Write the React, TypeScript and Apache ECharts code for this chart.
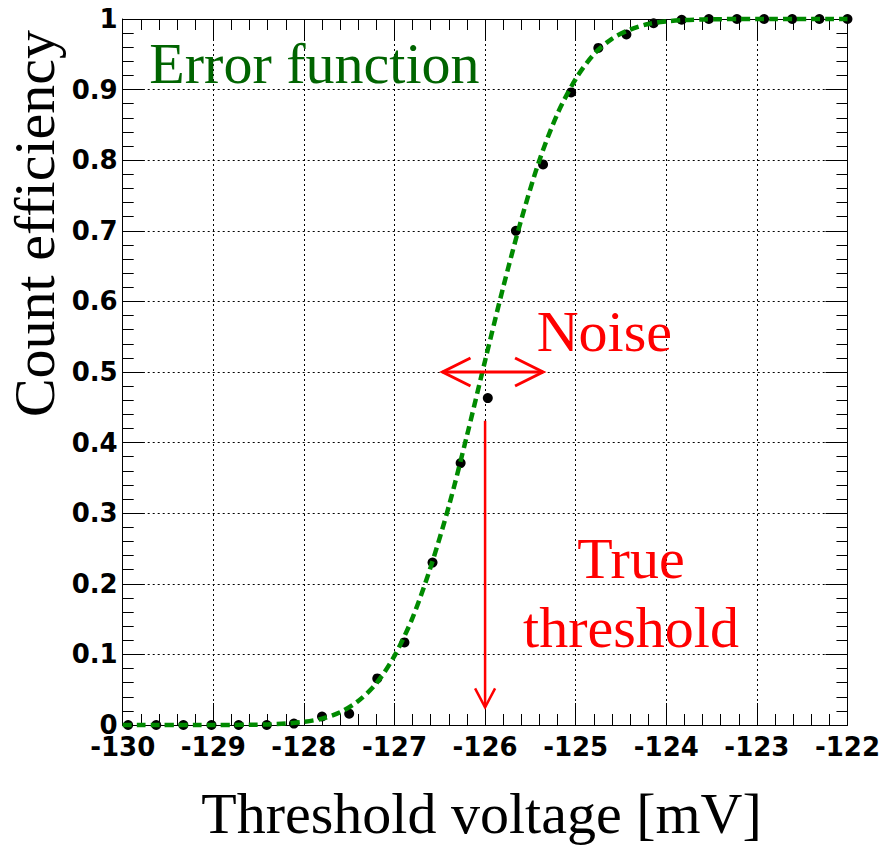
import React, { useEffect, useRef } from "react";
import * as echarts from "echarts";

// Measured points (threshold voltage in mV, count efficiency)
const voltage = [
  -129.94, -129.63, -129.33, -129.02, -128.72, -128.41, -128.11, -127.8, -127.5,
  -127.19, -126.89, -126.58, -126.27, -125.97, -125.66, -125.36, -125.05, -124.75,
  -124.44, -124.14, -123.83, -123.53, -123.22, -122.92, -122.61, -122.31, -122.0,
];
const efficiency = [
  0, 0, 0, 0, 0, 0, 0.002, 0.012, 0.016, 0.066, 0.117, 0.23, 0.371, 0.463, 0.7,
  0.794, 0.896, 0.959, 0.978, 0.994, 0.999, 1, 1, 1, 1, 1, 1,
];

// Error-function fit curve
const fitVoltage = [
  -130, -129.8, -129.6, -129.4, -129.2, -129, -128.8, -128.6, -128.4, -128.2, -128,
  -127.8, -127.6, -127.4, -127.2, -127, -126.8, -126.6, -126.4, -126.2, -126,
  -125.8, -125.6, -125.4, -125.2, -125, -124.8, -124.6, -124.4, -124.2, -124,
  -123.8, -123.6, -123.4, -123.2, -123, -122.8, -122.6, -122.4, -122.2, -122,
];
const fitEfficiency = [
  0, 0, 0, 0, 0, 0, 0.0001, 0.0003, 0.0008, 0.002, 0.0045,
  0.009, 0.018, 0.034, 0.059, 0.098, 0.152, 0.224, 0.31, 0.41, 0.516,
  0.62, 0.716, 0.8, 0.866, 0.915, 0.95, 0.972, 0.985, 0.993, 0.9966,
  0.9985, 0.9994, 0.9998, 1, 1, 1, 1, 1, 1, 1,
];

// Axis ranges
const xRange = [-130, -122];
const xStep = 1;
const yRange = [0, 1];
const yStep = 0.1;

// Annotations (data coordinates; text positions are baselines)
const noiseArrow = [[-126.47, 0.5], [-125.36, 0.5]];
const thresholdArrow = [[-126.0, 0.431], [-126.0, 0.025]];
const annotationTexts = [
  { text: "Error function", at: [-129.706, 0.909], align: "left", color: "#006400" },
  { text: "Noise", at: [-125.43, 0.53], align: "left", color: "#ff0000" },
  { text: "True", at: [-124.39, 0.2082], align: "center", color: "#ff0000" },
  { text: "threshold", at: [-124.39, 0.1105], align: "center", color: "#ff0000" },
];

const SERIF = "'Liberation Serif', 'Times New Roman', serif";
const TITLE_SIZE = 58;
const BASE_OFF = TITLE_SIZE * 0.3375;

export default function App() {
  const ref = useRef<HTMLDivElement>(null);
  useEffect(() => {
    const chart = echarts.init(ref.current!, null, { renderer: "svg" });
    const tickStyle = { color: "#000", width: 1 };
    const common = {
      type: "value" as const,
      axisLine: { show: true, onZero: false, lineStyle: { color: "#000", width: 1 } },
      axisTick: { show: true, inside: true, length: 22, lineStyle: tickStyle },
      minorTick: { show: true, splitNumber: 5, length: 11, lineStyle: tickStyle },
    };
    const labelStyle = {
      fontFamily: "'DejaVu Sans', sans-serif",
      fontWeight: "bold" as const,
      fontSize: 26,
      color: "#000",
    };
    chart.setOption({
      animation: false,
      backgroundColor: "#fff",
      grid: { left: 122.7, right: 35.5, top: 19, bottom: 120, containLabel: false },
      xAxis: [
        {
          ...common,
          position: "bottom",
          min: xRange[0],
          max: xRange[1],
          interval: xStep,
          axisLabel: { ...labelStyle, margin: 9, showMinLabel: true, showMaxLabel: true },
          splitLine: { show: true, lineStyle: { color: "#000", type: [2, 3], width: 1 } },
        },
        {
          ...common,
          position: "top",
          min: xRange[0],
          max: xRange[1],
          interval: xStep,
          axisLabel: { show: false },
          splitLine: { show: false },
        },
      ],
      yAxis: [
        {
          ...common,
          position: "left",
          min: yRange[0],
          max: yRange[1],
          interval: yStep,
          axisLabel: {
            ...labelStyle,
            margin: 5,
            formatter: (v: number) => String(+v.toFixed(1)),
          },
          splitLine: { show: true, lineStyle: { color: "#000", type: [2, 3], width: 1 } },
        },
        {
          ...common,
          position: "right",
          min: yRange[0],
          max: yRange[1],
          interval: yStep,
          axisLabel: { show: false },
          splitLine: { show: false },
        },
      ],
      series: [
        {
          type: "scatter",
          xAxisIndex: 0,
          yAxisIndex: 0,
          data: voltage.map((v, i) => [v, efficiency[i]]),
          symbol: "circle",
          symbolSize: 10,
          itemStyle: { color: "#000", opacity: 1 },
          clip: false,
          z: 2,
        },
        {
          type: "line",
          xAxisIndex: 0,
          yAxisIndex: 0,
          data: fitVoltage.map((v, i) => [v, fitEfficiency[i]]),
          showSymbol: false,
          smooth: 0.3,
          clip: false,
          lineStyle: { color: "#008a00", width: 4.5, type: [9, 5] },
          z: 3,
        },
      ],
    });

    const px = (p: number[]) => chart.convertToPixel({ seriesIndex: 0 }, p) as number[];
    const red = "#ff0000";
    const graphics: any[] = [];

    // Noise double arrow
    const n0 = px(noiseArrow[0]);
    const n1 = px(noiseArrow[1]);
    graphics.push({
      type: "line",
      shape: { x1: n0[0], y1: n0[1], x2: n1[0], y2: n1[1] },
      style: { stroke: red, lineWidth: 3 },
      z: 10,
    });
    graphics.push({
      type: "polyline",
      shape: { points: [[n0[0] + 28, n0[1] - 14], [n0[0], n0[1]], [n0[0] + 28, n0[1] + 14]] },
      style: { stroke: red, lineWidth: 3, fill: null },
      z: 10,
    });
    graphics.push({
      type: "polyline",
      shape: { points: [[n1[0] - 28, n1[1] - 14], [n1[0], n1[1]], [n1[0] - 28, n1[1] + 14]] },
      style: { stroke: red, lineWidth: 3, fill: null },
      z: 10,
    });

    // Threshold arrow
    const t0 = px(thresholdArrow[0]);
    const t1 = px(thresholdArrow[1]);
    graphics.push({
      type: "line",
      shape: { x1: t0[0], y1: t0[1], x2: t1[0], y2: t1[1] },
      style: { stroke: red, lineWidth: 2.5 },
      z: 10,
    });
    graphics.push({
      type: "polyline",
      shape: { points: [[t1[0] - 10, t1[1] - 19], [t1[0], t1[1]], [t1[0] + 10, t1[1] - 19]] },
      style: { stroke: red, lineWidth: 2.5, fill: null },
      z: 10,
    });

    // Annotation texts
    annotationTexts.forEach((a) => {
      const p = px(a.at);
      graphics.push({
        type: "text",
        x: p[0],
        y: p[1] - BASE_OFF,
        style: {
          text: a.text,
          fill: a.color,
          font: `${TITLE_SIZE}px ${SERIF}`,
          lineHeight: TITLE_SIZE,
          align: a.align,
          verticalAlign: "middle",
        },
        z: 11,
      });
    });

    // Axis titles
    graphics.push({
      type: "text",
      x: 481.5,
      y: 833 - BASE_OFF,
      style: {
        text: "Threshold voltage [mV]",
        fill: "#000",
        font: `${TITLE_SIZE}px ${SERIF}`,
        lineHeight: TITLE_SIZE,
        align: "center",
        verticalAlign: "middle",
      },
    });
    graphics.push({
      type: "text",
      x: 54 - BASE_OFF,
      y: 30,
      rotation: Math.PI / 2,
      style: {
        text: "Count efficiency",
        fill: "#000",
        font: `${TITLE_SIZE}px ${SERIF}`,
        lineHeight: TITLE_SIZE,
        align: "right",
        verticalAlign: "middle",
      },
    });

    chart.setOption({ graphic: graphics });
    return () => chart.dispose();
  }, []);
  return (
    <div
      ref={ref}
      style={{ position: "absolute", left: 0, top: 0, width: 883, height: 845 }}
    />
  );
}
